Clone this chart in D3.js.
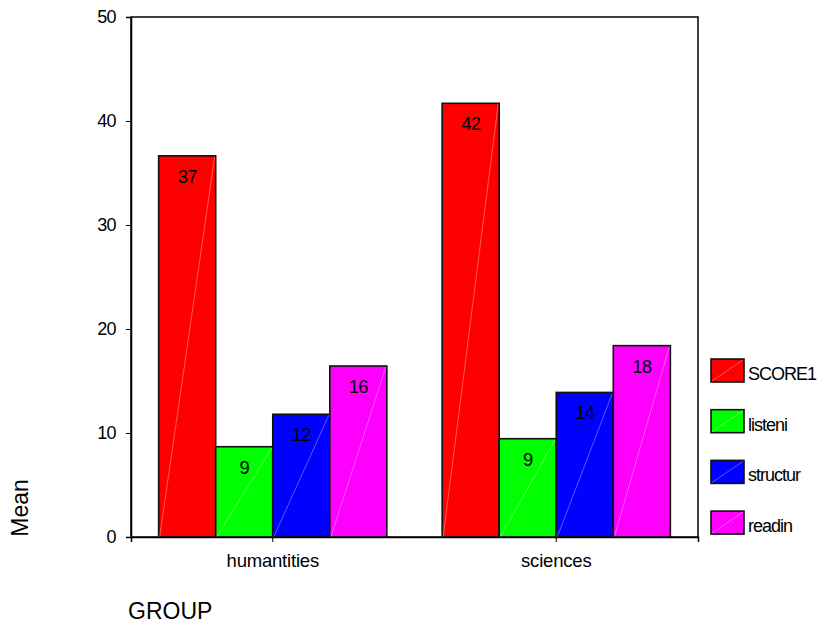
<!DOCTYPE html>
<html>
<head>
<meta charset="utf-8">
<script src="https://cdn.jsdelivr.net/npm/d3@7"></script>
<style>
  html, body { margin: 0; padding: 0; background: #fff; }
  svg text { font-family: "Liberation Sans", Arial, sans-serif; fill: #000; }
</style>
</head>
<body>
<svg id="chart" width="822" height="624"></svg>
<script>
// Mean scores by group
const groups = ["humantities", "sciences"];
const seriesNames = ["SCORE1", "listeni", "structur", "readin"];
const seriesColors = ["#ff0000", "#00ff00", "#0000ff", "#ff00ff"];
const humanitiesMeans = [36.65, 8.68, 11.8, 16.44];
const sciencesMeans = [41.7, 9.45, 13.9, 18.4];
const yTicks = [0, 10, 20, 30, 40, 50];

const meansByGroup = [humanitiesMeans, sciencesMeans];
const rows = groups.map((g, gi) =>
  seriesNames.map((s, si) => ({ group: g, series: s, value: meansByGroup[gi][si] }))
);

const svg = d3.select("#chart");
const plot = { left: 131, top: 17, right: 698, bottom: 537 };
const FONT = "'Liberation Sans', Arial, sans-serif";

const x0 = d3.scaleBand().domain(groups).range([plot.left, plot.right]).paddingInner(0).paddingOuter(0);
const x1 = d3.scaleBand().domain(seriesNames).range([0, x0.bandwidth() * 0.805]).padding(0);
const y = d3.scaleLinear().domain([0, 50]).range([plot.bottom, plot.top]);
const color = d3.scaleOrdinal().domain(seriesNames).range(seriesColors);
const fmt = d3.format(".0f");

// Plot frame
svg.append("rect")
  .attr("x", plot.left).attr("y", plot.top)
  .attr("width", plot.right - plot.left).attr("height", plot.bottom - plot.top)
  .attr("fill", "none").attr("stroke", "#000").attr("stroke-width", 1.5);

// Bars
const groupOffset = (x0.bandwidth() - x1.range()[1]) / 2;
const gBars = svg.append("g");
rows.forEach(row => {
  const g = gBars.append("g")
    .attr("transform", `translate(${x0(row[0].group) + groupOffset},0)`);
  const bar = g.selectAll("g.bar").data(row).join("g").attr("class", "bar");
  bar.append("rect")
    .attr("x", d => x1(d.series))
    .attr("y", d => y(d.value))
    .attr("width", x1.bandwidth())
    .attr("height", d => y(0) - y(d.value))
    .attr("fill", d => color(d.series))
    .attr("stroke", "#111").attr("stroke-width", 1.6);
  bar.append("line")
    .attr("x1", d => x1(d.series) + 1)
    .attr("y1", y(0))
    .attr("x2", d => x1(d.series) + x1.bandwidth() - 1)
    .attr("y2", d => y(d.value) + 1)
    .attr("stroke", "#fff").attr("stroke-opacity", 0.35).attr("stroke-width", 1);
  bar.append("text")
    .attr("x", d => x1(d.series) + x1.bandwidth() / 2)
    .attr("y", d => y(d.value) + 27)
    .attr("text-anchor", "middle")
    .attr("font-size", 18.5)
    .attr("letter-spacing", -0.8)
    .text(d => fmt(d.value));
});

// Y axis
const yAxis = svg.append("g").attr("transform", `translate(${plot.left},0)`)
  .call(d3.axisLeft(y).tickValues(yTicks).tickSize(5).tickPadding(10).tickFormat(d3.format("d")));
yAxis.select(".domain").attr("stroke", "#000").attr("stroke-width", 1.5);
yAxis.selectAll(".tick line").attr("stroke", "#000");
yAxis.selectAll(".tick text")
  .attr("font-size", 18).attr("letter-spacing", -0.6)
  .style("font-family", FONT).attr("fill", "#000");

// X axis
const xAxis = svg.append("g").attr("transform", `translate(0,${plot.bottom})`)
  .call(d3.axisBottom(x0).tickSize(5).tickPadding(12));
xAxis.select(".domain").attr("stroke", "#000").attr("stroke-width", 1.5);
xAxis.selectAll(".tick line").attr("stroke", "#000");
xAxis.selectAll(".tick text")
  .attr("font-size", 18.5).attr("letter-spacing", -0.2)
  .style("font-family", FONT).attr("fill", "#000");

// Axis titles
svg.append("text")
  .attr("transform", "translate(28,508) rotate(-90)")
  .attr("text-anchor", "middle")
  .attr("font-size", 23)
  .text("Mean");
svg.append("text")
  .attr("x", 128).attr("y", 619)
  .attr("font-size", 23)
  .text("GROUP");

// Legend
const legend = svg.append("g").attr("transform", "translate(711,359)");
const item = legend.selectAll("g").data(seriesNames).join("g")
  .attr("transform", (d, i) => `translate(0,${i * 50.7})`);
item.append("rect")
  .attr("width", 33).attr("height", 23)
  .attr("fill", d => color(d))
  .attr("stroke", "#111").attr("stroke-width", 1.6);
item.append("line")
  .attr("x1", 1).attr("y1", 22).attr("x2", 32).attr("y2", 1)
  .attr("stroke", "#fff").attr("stroke-opacity", 0.35);
item.append("text")
  .attr("x", 37).attr("y", 21)
  .attr("font-size", 18)
  .attr("letter-spacing", -1)
  .text(d => d);
</script>
</body>
</html>
